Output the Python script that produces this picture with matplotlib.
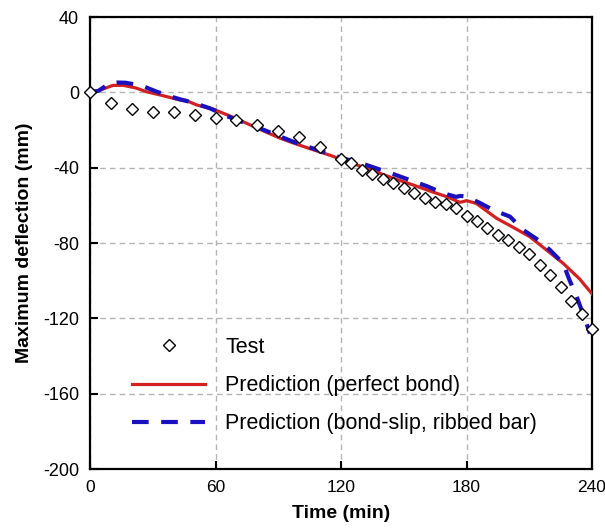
import matplotlib
matplotlib.use("Agg")
import matplotlib.pyplot as plt

plt.rcParams['font.family'] = ['Liberation Sans', 'DejaVu Sans']

# Test data
t_test = [0, 10, 20, 30, 40, 50, 60, 70, 80, 90, 100, 110, 120,
          125, 130, 135, 140, 145, 150, 155, 160, 165, 170, 175, 180,
          185, 190, 195, 200, 205, 210, 215, 220, 225, 230, 235, 240]
d_test = [0, -5.5, -8.7, -10.3, -10.3, -12.1, -13.5, -14.7, -17.4, -20.6, -23.7, -29.2, -35.4,
          -37.7, -41.3, -43.4, -46.2, -48.3, -51.0, -53.3, -56.3, -58.1, -59.5, -61.6, -65.5,
          -68.3, -72.2, -75.8, -78.4, -82.3, -86.0, -91.7, -97.0, -103.2, -110.7, -117.7, -125.7]

# Prediction (perfect bond)
t_red = [0, 4, 8, 11, 16, 22, 27, 35, 43, 45.5, 51, 59, 67, 75, 83, 91, 99, 107, 115, 121,
         130, 138.6, 146, 154.5, 162, 170.5, 176.8, 178.5, 180, 184.7, 194.4, 202, 210.3, 218,
         226.2, 234, 240]
d_red = [0, 0.8, 2.5, 3.7, 3.7, 2.3, 0.3, -1.8, -4.1, -4.1, -6.7, -9.0, -12.6, -16.5, -20.5,
         -24.4, -27.6, -30.6, -33.5, -36.0, -39.5, -43.0, -46.0, -49.2, -52.2, -55.4, -58.4,
         -58.0, -57.5, -59.0, -66.9, -71.5, -76.7, -83.5, -90.8, -99.0, -107.0]

# Prediction (bond-slip, ribbed bar)
t_blue = [0, 4, 6.5, 9, 13, 17, 21, 25, 32, 40, 45, 49.4, 57.4, 65.3, 72.5, 81.2, 89.2, 97.1,
          105, 113, 121, 129, 137, 145, 153, 161, 169, 175, 177, 180, 183, 186, 192.8, 200.8,
          207, 214.3, 219.9, 226.2, 229, 233, 236, 239]
d_blue = [0, 0.8, 2.6, 4.8, 5.2, 5.1, 4.3, 3.4, 0.3, -2.7, -4.3, -5.5, -8.5, -12.6, -15.6,
          -19.1, -22.7, -26.2, -29.2, -32.1, -35.1, -37.4, -40.4, -43.4, -46.6, -49.8, -53.6,
          -55.5, -55.0, -55.3, -57.0, -58.5, -62.5, -66.0, -73.0, -78.4, -83.7, -90.8, -99.0,
          -109.5, -118.5, -128.0]

x_ticks = [0, 60, 120, 180, 240]
y_ticks = [40, 0, -40, -80, -120, -160, -200]

fig = plt.figure(figsize=(6.05, 5.3), dpi=100)
ax = fig.add_axes([90/605, 1-469/530, (592-90)/605, (469-17)/530])

ax.plot(t_test, d_test, linestyle='none', marker='D', markersize=6.5,
        markerfacecolor='white', markeredgecolor='black', markeredgewidth=1.0,
        label='Test', zorder=4, clip_on=False)
ax.plot(t_red, d_red, color='#d42020', linewidth=2.3, label='Prediction (perfect bond)', zorder=3)
ax.plot(t_blue, d_blue, color='#1a10c0', linewidth=3.0, dashes=(4, 3),
        label='Prediction (bond-slip, ribbed bar)', zorder=3)

ax.set_xlim(0, 240)
ax.set_ylim(-200, 40)
ax.set_xticks(x_ticks)
ax.set_yticks(y_ticks)
ax.set_xticklabels([str(v) for v in x_ticks])
ax.set_yticklabels([str(v) for v in y_ticks])
ax.tick_params(axis='y', direction='in', length=6, width=1.5, labelsize=13, pad=8,
               right=False)
ax.tick_params(axis='x', direction='in', length=6, width=1.5, labelsize=12.5, pad=8,
               top=False)
for s in ax.spines.values():
    s.set_linewidth(1.6)

ax.grid(True, color='#b4b4b4', linestyle=(0, (4, 3)), linewidth=1.0)
ax.set_axisbelow(True)

ax.set_xlabel('Time (min)', fontsize=14, fontweight='bold', labelpad=7)
ax.set_ylabel('Maximum deflection (mm)', fontsize=14, fontweight='bold', labelpad=7)

leg = ax.legend(loc='upper left', bbox_to_anchor=(132/605, 1-337/530),
                bbox_transform=fig.transFigure, frameon=False, fontsize=15.5,
                handlelength=3.4, handletextpad=0.92, labelspacing=0.8,
                borderpad=0, borderaxespad=0)

fig.savefig('out.png', dpi=100)
